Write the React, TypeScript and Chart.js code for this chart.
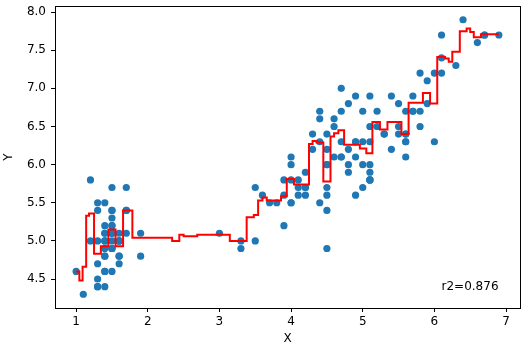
import React, { useEffect, useRef } from "react";
import { Chart, registerables } from "chart.js";

Chart.register(...registerables);

// Iris: petal length (X) vs sepal length (Y)
const petalLength = [
  1.4, 1.4, 1.3, 1.5, 1.4, 1.7, 1.4, 1.5, 1.4, 1.5, 1.5, 1.6, 1.4, 1.1, 1.2, 1.5, 1.3, 1.4, 1.7, 1.5,
  1.7, 1.5, 1.0, 1.7, 1.9, 1.6, 1.6, 1.5, 1.4, 1.6, 1.6, 1.5, 1.5, 1.4, 1.5, 1.2, 1.3, 1.5, 1.3, 1.5,
  1.3, 1.3, 1.3, 1.6, 1.9, 1.4, 1.6, 1.4, 1.5, 1.4,
  4.7, 4.5, 4.9, 4.0, 4.6, 4.5, 4.7, 3.3, 4.6, 3.9, 3.5, 4.2, 4.0, 4.7, 3.6, 4.4, 4.5, 4.1, 4.5, 3.9,
  4.8, 4.0, 4.9, 4.7, 4.3, 4.4, 4.8, 5.0, 4.5, 3.5, 3.8, 3.7, 3.9, 5.1, 4.5, 4.5, 4.7, 4.4, 4.1, 4.0,
  4.4, 4.6, 4.0, 3.3, 4.2, 4.2, 4.2, 4.3, 3.0, 4.1,
  6.0, 5.1, 5.9, 5.6, 5.8, 6.6, 4.5, 6.3, 5.8, 6.1, 5.1, 5.3, 5.5, 5.0, 5.1, 5.3, 5.5, 6.7, 6.9, 5.0,
  5.7, 4.9, 6.7, 4.9, 5.7, 6.0, 4.8, 4.9, 5.6, 5.8, 6.1, 6.4, 5.6, 5.1, 5.6, 6.1, 5.6, 5.5, 4.8, 5.4,
  5.6, 5.1, 5.1, 5.9, 5.7, 5.2, 5.0, 5.2, 5.4, 5.1,
];
const sepalLength = [
  5.1, 4.9, 4.7, 4.6, 5.0, 5.4, 4.6, 5.0, 4.4, 4.9, 5.4, 4.8, 4.8, 4.3, 5.8, 5.7, 5.4, 5.1, 5.7, 5.1,
  5.4, 5.1, 4.6, 5.1, 4.8, 5.0, 5.0, 5.2, 5.2, 4.7, 4.8, 5.4, 5.2, 5.5, 4.9, 5.0, 5.5, 4.9, 4.4, 5.1,
  5.0, 4.5, 4.4, 5.0, 5.1, 4.8, 5.1, 4.6, 5.3, 5.0,
  7.0, 6.4, 6.9, 5.5, 6.5, 5.7, 6.3, 4.9, 6.6, 5.2, 5.0, 5.9, 6.0, 6.1, 5.6, 6.7, 5.6, 5.8, 6.2, 5.6,
  5.9, 6.1, 6.3, 6.1, 6.4, 6.6, 6.8, 6.7, 6.0, 5.7, 5.5, 5.5, 5.8, 6.0, 5.4, 6.0, 6.7, 6.3, 5.6, 5.5,
  5.5, 6.1, 5.8, 5.0, 5.6, 5.7, 5.7, 6.2, 5.1, 5.7,
  6.3, 5.8, 7.1, 6.3, 6.5, 7.6, 4.9, 7.3, 6.7, 7.2, 6.5, 6.4, 6.8, 5.7, 5.8, 6.4, 6.5, 7.7, 7.7, 6.0,
  6.9, 5.6, 7.7, 6.3, 6.7, 7.2, 6.2, 6.1, 6.4, 7.2, 7.4, 7.9, 6.4, 6.3, 6.1, 7.7, 6.3, 6.4, 6.0, 6.9,
  6.7, 6.9, 5.8, 6.8, 6.7, 6.7, 6.3, 6.5, 6.2, 5.9,
];

// Model prediction: step start positions and the predicted value on each step
const stepStart = [
  1.0, 1.045, 1.09, 1.14, 1.18, 1.25, 1.345, 1.45, 1.55, 1.655, 1.785,
  2.34, 2.44, 2.5, 2.69, 3.145, 3.38, 3.48, 3.54, 3.6, 3.66, 3.86, 3.94,
  4.04, 4.25, 4.3, 4.355, 4.45, 4.55, 4.6, 4.66, 4.74, 4.96, 5.05, 5.135,
  5.24, 5.345, 5.54, 5.64, 5.84, 5.94, 6.04, 6.15, 6.2, 6.25, 6.355, 6.45,
  6.5, 6.55, 6.65,
];
const stepValue = [
  4.6, 4.48, 4.66, 5.33, 5.36, 4.83, 4.93, 5.15, 4.93, 5.4, 5.04,
  5.0, 5.08, 5.06, 5.08, 5.0, 5.31, 5.34, 5.53, 5.57, 5.53, 5.585, 5.81,
  5.74, 6.27, 6.31, 6.29, 5.78, 6.37, 6.41, 6.45, 6.26, 6.21, 6.15, 6.56,
  6.46, 6.56, 6.4, 6.81, 6.94, 6.8, 7.41, 7.39, 7.35, 7.48, 7.75, 7.785,
  7.74, 7.67, 7.71,
];
const stepEnd = 6.9;

const xTicks = [1, 2, 3, 4, 5, 6, 7];
const yTicks = [4.5, 5.0, 5.5, 6.0, 6.5, 7.0, 7.5, 8.0];
const xRange = [0.705, 7.195];
const yRange = [4.12, 8.08];

const r2Label = "r2=0.876";
const r2Anchor = [6.1, 4.36];

export default function App() {
  const ref = useRef<HTMLCanvasElement>(null);

  useEffect(() => {
    document.body.style.margin = "0";
    const font = { family: "'DejaVu Sans', sans-serif", size: 12 };
    const scatterData = petalLength.map((x, i) => ({ x, y: sepalLength[i] }));
    const lineData = stepStart.map((x, i) => ({ x, y: stepValue[i] }));
    lineData.push({ x: stepEnd, y: stepValue[stepValue.length - 1] });

    const framePlugin = {
      id: "frameAndText",
      afterDatasetsDraw(chart: any) {
        const { ctx, chartArea: a, scales } = chart;
        ctx.save();
        ctx.strokeStyle = "#000";
        ctx.lineWidth = 1;
        ctx.strokeRect(
          Math.round(a.left) + 0.5,
          Math.round(a.top) + 0.5,
          Math.round(a.right) - Math.round(a.left),
          Math.round(a.bottom) - Math.round(a.top)
        );
        ctx.font = "12px 'DejaVu Sans', sans-serif";
        ctx.fillStyle = "#000";
        ctx.textBaseline = "alphabetic";
        ctx.textAlign = "left";
        ctx.fillText(
          r2Label,
          scales.x.getPixelForValue(r2Anchor[0]),
          scales.y.getPixelForValue(r2Anchor[1])
        );
        ctx.restore();
      },
    };

    const chart = new Chart(ref.current as HTMLCanvasElement, {
      type: "scatter",
      data: {
        datasets: [
          {
            type: "line",
            data: lineData,
            borderColor: "#ff0000",
            borderWidth: 2,
            pointRadius: 0,
            stepped: "before",
            fill: false,
            order: 0,
          } as any,
          {
            data: scatterData,
            backgroundColor: "#1f77b4",
            borderWidth: 0,
            pointRadius: 3.6,
            order: 1,
          },
        ],
      },
      options: {
        animation: false,
        responsive: false,
        maintainAspectRatio: false,
        layout: { padding: { top: 6, right: 6, left: 0, bottom: 0 } },
        plugins: { legend: { display: false }, tooltip: { enabled: false } },
        scales: {
          x: {
            type: "linear",
            min: xRange[0],
            max: xRange[1],
            afterBuildTicks: (s: any) => {
              s.ticks = xTicks.map((v) => ({ value: v }));
            },
            afterFit: (s: any) => {
              s.height = 43;
              s.paddingLeft = 0;
              s.paddingRight = 0;
            },
            grid: {
              display: true,
              drawOnChartArea: false,
              drawTicks: true,
              tickLength: 4,
              color: "#000",
            },
            border: { display: false },
            ticks: {
              font,
              color: "#000",
              padding: 3,
              maxRotation: 0,
              callback: (v: any) => String(v),
            },
            title: {
              display: true,
              text: "X",
              font,
              color: "#000",
              padding: { top: 0, bottom: 5 },
            },
          },
          y: {
            type: "linear",
            min: yRange[0],
            max: yRange[1],
            afterBuildTicks: (s: any) => {
              s.ticks = yTicks.map((v) => ({ value: v }));
            },
            afterFit: (s: any) => {
              s.width = 55;
              s.paddingTop = 0;
              s.paddingBottom = 0;
            },
            grid: {
              display: true,
              drawOnChartArea: false,
              drawTicks: true,
              tickLength: 4,
              color: "#000",
            },
            border: { display: false },
            ticks: {
              font,
              color: "#000",
              padding: 5,
              callback: (v: any) => Number(v).toFixed(1),
            },
            title: {
              display: true,
              text: "Y",
              font,
              color: "#000",
              padding: { top: 2, bottom: 0 },
            },
          },
        },
      },
      plugins: [framePlugin],
    });
    return () => chart.destroy();
  }, []);

  return (
    <div style={{ position: "absolute", left: 0, top: 0, width: 526, height: 351 }}>
      <canvas ref={ref} width={526} height={351} style={{ display: "block" }} />
    </div>
  );
}
